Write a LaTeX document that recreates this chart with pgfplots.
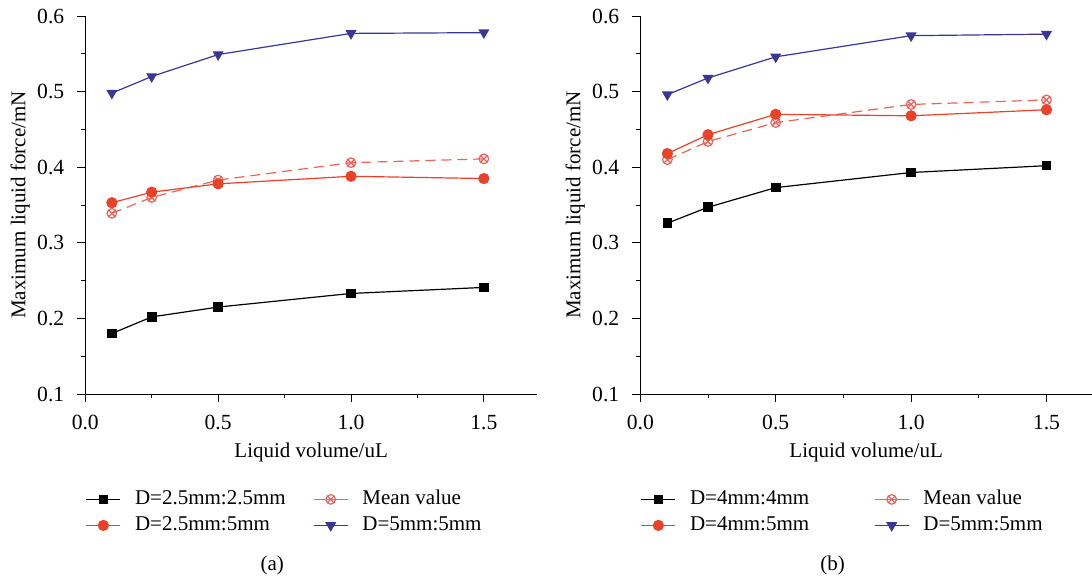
\documentclass[border=0pt]{standalone}
\usepackage{pgfplots}
\pgfplotsset{compat=1.18}
\usepackage{fontspec}
\setmainfont{Liberation Serif}
\usetikzlibrary{plotmarks}
\definecolor{cblue}{RGB}{58,54,150}
\definecolor{cred}{RGB}{234,66,40}
\definecolor{cmean}{RGB}{240,98,88}
\pgfplotsset{
  panel/.style={
    scale only axis, width=225.85pt, height=189pt,
    axis lines*=left, clip=false,
    ymin=0.1, ymax=0.6, xmin=0,
    xtick={0,0.5,1.0,1.5}, ytick={0.1,0.2,0.3,0.4,0.5,0.6},
    minor x tick num=1, minor y tick num=1,
    tick align=outside, major tick length=4pt, minor tick length=2pt,
    every tick/.style={black, line width=0.5pt},
    axis line style={black, line width=0.5pt},
    /pgf/number format/assume math mode=true,
    /pgf/number format/fixed,
    /pgf/number format/fixed zerofill,
    /pgf/number format/precision=1,
    font=\fontsize{10.5}{12}\selectfont,
    tick label style={font=\fontsize{10.8}{12}\selectfont},
    xticklabel style={yshift=-3pt},
    yticklabel style={xshift=-3pt},
    every axis y label/.style={at={(axis description cs:0,0.5)}, xshift=-32.5pt, rotate=90, anchor=center},
    every axis x label/.style={at={(axis description cs:0.5,0)}, yshift=-29.3pt, anchor=center},
    xlabel={Liquid volume/uL}, ylabel={Maximum liquid force/mN},
    legend columns=2,
    legend style={draw=none, fill=none, at={(axis description cs:0,0)}, anchor=north west,
      yshift=-46pt, inner sep=0pt, font=\fontsize{10.5}{12}\selectfont,
      nodes={inner sep=1.5pt, text height=7.5pt, text depth=2.5pt},
      /tikz/every odd column/.append style={column sep=5.5pt}},
    legend cell align=left,
  },
  sblack/.style={black, line width=0.6pt, mark=square*, mark size=2.1pt, mark options={solid}},
  smean/.style={cmean, line width=0.6pt, dashed, dash pattern=on 5pt off 3pt, mark=otimes, mark size=2.4pt, mark options={solid, line width=0.6pt}, legend image post style={solid}},
  sred/.style={cred, line width=0.6pt, mark=*, mark size=2.5pt, mark options={solid}},
  sblue/.style={cblue, line width=0.6pt, mark=triangle*, mark size=2.6pt, mark options={solid, rotate=180}},
}
\begin{document}
\begin{tikzpicture}[x=1pt,y=1pt]
\useasboundingbox (0,0) rectangle (546,290);
\begin{axis}[panel, at={(42.65pt,93pt)}, anchor=south west, xmax=1.7]
\addplot[sblack] coordinates {(0.1,0.180) (0.25,0.202) (0.5,0.215) (1.0,0.233) (1.5,0.241)};
\addlegendentry{\makebox[87.5pt][l]{D=2.5mm:2.5mm}}
\addplot[smean] coordinates {(0.1,0.339) (0.25,0.360) (0.5,0.383) (1.0,0.406) (1.5,0.411)};
\addlegendentry{Mean value}
\addplot[sred] coordinates {(0.1,0.353) (0.25,0.367) (0.5,0.378) (1.0,0.388) (1.5,0.385)};
\addlegendentry{D=2.5mm:5mm}
\addplot[sblue] coordinates {(0.1,0.498) (0.25,0.520) (0.5,0.549) (1.0,0.577) (1.5,0.578)};
\addlegendentry{D=5mm:5mm}
\end{axis}
\begin{axis}[panel, at={(320.15pt,93pt)}, anchor=south west, xmax=1.668]
\addplot[sblack] coordinates {(0.1,0.326) (0.25,0.347) (0.5,0.373) (1.0,0.393) (1.5,0.402)};
\addlegendentry{\makebox[90.5pt][l]{D=4mm:4mm}}
\addplot[smean] coordinates {(0.1,0.410) (0.25,0.434) (0.5,0.459) (1.0,0.483) (1.5,0.489)};
\addlegendentry{Mean value}
\addplot[sred] coordinates {(0.1,0.418) (0.25,0.443) (0.5,0.470) (1.0,0.468) (1.5,0.476)};
\addlegendentry{D=4mm:5mm}
\addplot[sblue] coordinates {(0.1,0.496) (0.25,0.518) (0.5,0.546) (1.0,0.574) (1.5,0.576)};
\addlegendentry{D=5mm:5mm}
\end{axis}
\node[font=\fontsize{10.5}{12}\selectfont] at (136.15,7.5) {(a)};
\node[font=\fontsize{10.5}{12}\selectfont] at (416.35,7.5) {(b)};
\end{tikzpicture}
\end{document}
